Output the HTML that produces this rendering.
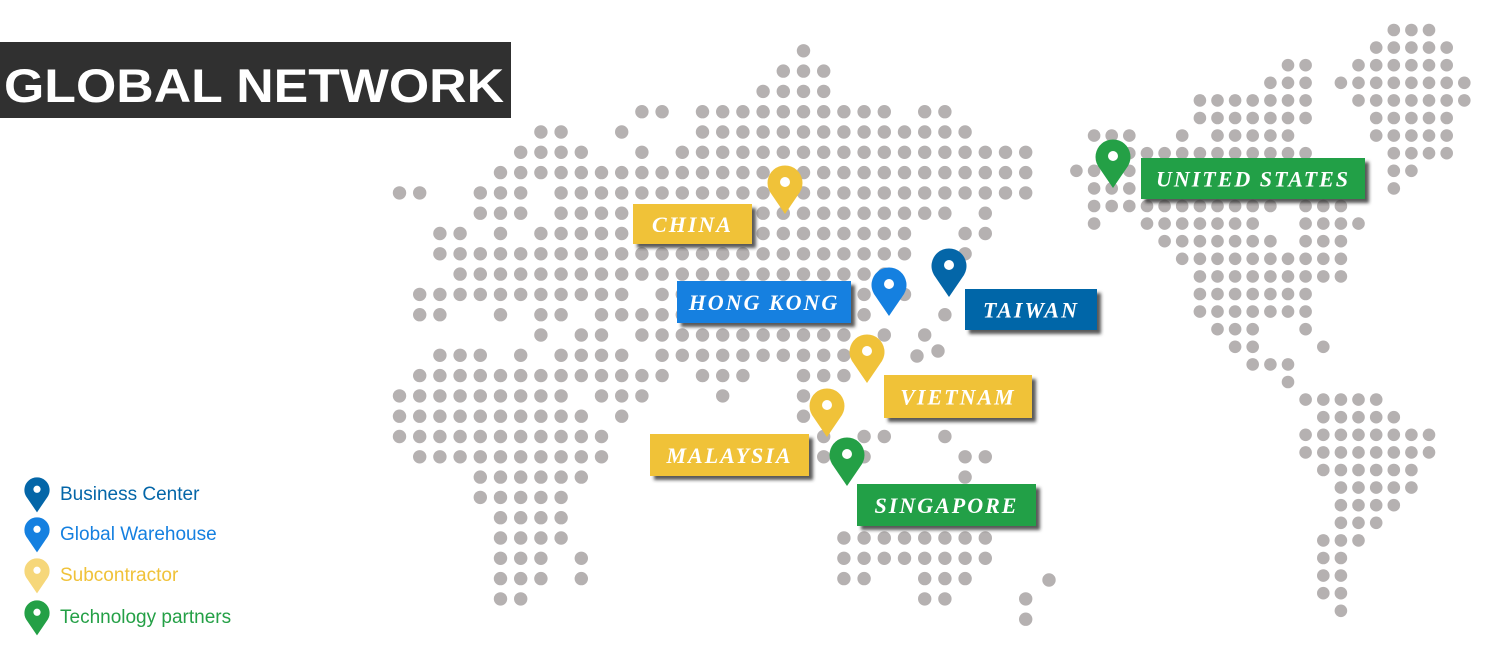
<!DOCTYPE html>
<html><head><meta charset="utf-8"><style>
html,body{margin:0;padding:0;background:#fff;width:1503px;height:650px;overflow:hidden;}
svg{display:block;}
.lbl{font-family:"Liberation Serif",serif;font-style:italic;font-weight:bold;font-size:22px;fill:#fff;letter-spacing:2px;}
.leg{font-family:"Liberation Sans",sans-serif;font-size:19px;}
</style></head><body>
<svg id="map" width="1503" height="650" viewBox="0 0 1503 650" xmlns="http://www.w3.org/2000/svg">
<defs><filter id="sh" x="-10%" y="-10%" width="130%" height="140%"><feDropShadow dx="4" dy="4" stdDeviation="1.5" flood-color="#333" flood-opacity="0.8"/></filter></defs>
<g id="dots"></g>
<rect x="0" y="42" width="511" height="76" fill="#303030"/>
<text x="4" y="102" font-family="Liberation Sans,sans-serif" font-weight="bold" font-size="47" fill="#fff" textLength="500" lengthAdjust="spacingAndGlyphs">GLOBAL NETWORK</text>
<g id="labels"></g>
<g id="pins"></g>
<g id="legend"></g>
</svg>
<script>
// Asia/Europe/Africa/Oceania grid rows (row index k, column ranges)
const asiaRows = [
 [-3,"20"],[-2,"19-21"],[-1,"18-21"],[0,"12-13,15-24,26-27"],[1,"7-8,11,15-28"],
 [2,"6-9,12,14-31"],[3,"5-31"],[4,"0-1,4-6,8-31"],[5,"4-6,8-27,29"],[6,"2-3,5,7-25,28-29"],
 [7,"2-25,28"],[8,"3-24"],[9,"1-11,13-23,25"],[10,"1-2,5,7-8,10-23,27"],[11,"7,9-10,12-22,24,26"],
 [12,"2-4,6,8-11,13-22"],[13,"1-13,15-17,20-22"],[14,"0-8,10-12,16,20"],[15,"0-9,11,20"],
 [16,"0-10,21,23-24,27"],[17,"1-10,21,23,28-29"],[18,"4-9,28"],[19,"4-8"],[20,"5-8"],
 [21,"5-8,22-29"],[22,"5-7,9,22-29"],[23,"5-7,9,22-23,26-28"],[24,"5-6,26-27,31"],[25,"31"]
];
const asiaExtras = [[917,356],[938,351],[1049,580]];
// Americas grid rows (row index i, column ranges)
const amerRows = [
 [0,"16-18"],[1,"15-19"],[2,"10-11,14-19"],[3,"9-11,13-20"],[4,"5-11,14-20"],[5,"5-11,15-19"],
 [6,"-1-1,4,6-10,15-19"],[7,"0-11,16-19"],[8,"-2-1,16-17"],[9,"-1-1,16"],[10,"-1-9,11-13"],
 [11,"-1,2-8,11-14"],[12,"3-9,11-13"],[13,"4-13"],[14,"5-13"],[15,"5-11"],[16,"5-11"],
 [17,"6-8,11"],[18,"7-8,12"],[19,"8-10"],[20,"10"],[21,"11-15"],[22,"12-16"],[23,"11-18"],
 [24,"11-18"],[25,"12-17"],[26,"13-17"],[27,"13-16"],[28,"13-15"],[29,"12-14"],[30,"12-13"],
 [31,"12-13"],[32,"12-13"],[33,"13"]
];
const NS="http://www.w3.org/2000/svg";
function parse(s){const out=[];s.split(",").forEach(p=>{const m=p.match(/^(-?\d+)(?:-(-?\d+))?$/);const a=+m[1],b=m[2]!==undefined?+m[2]:a;for(let c=a;c<=b;c++)out.push(c);});return out;}
const asiaX=c=>399.5+20.2*c, asiaY=k=>111.7+20.3*k;
const amX=j=>1111.7+17.63*j, amY=i=>30+17.6*i;
const dots=document.getElementById('dots');
function dot(x,y,r){const e=document.createElementNS(NS,'circle');e.setAttribute('cx',x.toFixed(1));e.setAttribute('cy',y.toFixed(1));e.setAttribute('r',r);e.setAttribute('fill','#b5b1b1');


dots.appendChild(e);}
asiaRows.forEach(([k,s])=>parse(s).forEach(c=>dot(asiaX(c),asiaY(k),6.7)));
asiaExtras.forEach(([x,y])=>dot(x,y,6.7));
amerRows.forEach(([i,s])=>parse(s).forEach(j=>dot(amX(j),amY(i),6.3)));

const C={yellow:"#f0c239",blue:"#1580e0",dark:"#0466a8",green:"#24a046"};
const labels=[
 ["CHINA",633,204,119,40,C.yellow,"china-label"],
 ["HONG KONG",677,281,174,42,C.blue,"hong-kong-label"],
 ["TAIWAN",965,289,132,41,C.dark,"taiwan-label"],
 ["VIETNAM",884,375,148,43,C.yellow,"vietnam-label"],
 ["MALAYSIA",650,434,159,42,C.yellow,"malaysia-label"],
 ["SINGAPORE",857,484,179,42,C.green,"singapore-label"],
 ["UNITED STATES",1141,158,224,41,C.green,"united-states-label"]
];
const lg=document.getElementById('labels');
labels.forEach(([t,x,y,w,h,col,name])=>{
 const g=document.createElementNS(NS,'g');
 
 
 const r=document.createElementNS(NS,'rect');r.setAttribute('x',x);r.setAttribute('y',y);r.setAttribute('width',w);r.setAttribute('height',h);r.setAttribute('fill',col);r.setAttribute('filter','url(#sh)');
 const tx=document.createElementNS(NS,'text');tx.setAttribute('x',x+w/2);tx.setAttribute('y',y+h/2+8);tx.setAttribute('text-anchor','middle');tx.setAttribute('class','lbl');tx.textContent=t;
 g.appendChild(r);g.appendChild(tx);lg.appendChild(g);
});
function pin(parent,cx,cy,s,col,name){
 const g=document.createElementNS(NS,'g');
 g.setAttribute('transform',`translate(${cx},${cy}) scale(${s})`);
 
 
 const p=document.createElementNS(NS,'path');p.setAttribute('d','M0,31 L-15,9 A17.5,17.5 0 1,1 15,9 Z');p.setAttribute('fill',col);
 const h=document.createElementNS(NS,'circle');h.setAttribute('cx',0);h.setAttribute('cy',-1);h.setAttribute('r',5);h.setAttribute('fill','#fff');
 g.appendChild(p);g.appendChild(h);parent.appendChild(g);
}
const pg=document.getElementById('pins');
pin(pg,785,183,1,C.yellow,'china-pin');
pin(pg,889,285,1,C.blue,'hong-kong-pin');
pin(pg,949,266,1,C.dark,'taiwan-pin');
pin(pg,867,352,1,C.yellow,'vietnam-pin');
pin(pg,827,406,1,C.yellow,'malaysia-pin');
pin(pg,847,455,1,C.green,'singapore-pin');
pin(pg,1113,157,1,C.green,'united-states-pin');
const legend=[["Business Center",C.dark,C.dark,493,'legend-business-center'],["Global Warehouse",C.blue,C.blue,533,'legend-global-warehouse'],["Subcontractor","#f6d77a",C.yellow,574,'legend-subcontractor'],["Technology partners",C.green,C.green,616,'legend-technology-partners']];
const leg=document.getElementById('legend');
legend.forEach(([t,pc,tc,y,name])=>{
 const g=document.createElementNS(NS,'g');
 
 
 leg.appendChild(g);
 pin(g,37,y-3,0.72,pc,name+'-pin');
 const tx=document.createElementNS(NS,'text');tx.setAttribute('x',60);tx.setAttribute('y',y+7);tx.setAttribute('class','leg');tx.setAttribute('fill',tc);tx.textContent=t;g.appendChild(tx);
});
</script>
</body></html>
